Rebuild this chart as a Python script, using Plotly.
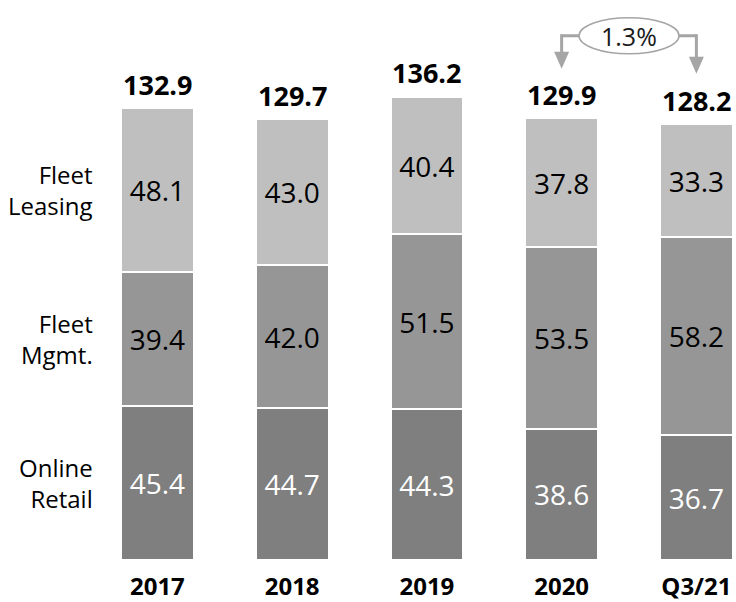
import plotly.graph_objects as go

# ---- data ----
categories = ["2017", "2018", "2019", "2020", "Q3/21"]
online_retail = [45.4, 44.7, 44.3, 38.6, 36.7]
fleet_mgmt = [39.4, 42.0, 51.5, 53.5, 58.2]
fleet_leasing = [48.1, 43.0, 40.4, 37.8, 33.3]
totals = [132.9, 129.7, 136.2, 129.9, 128.2]
segment_names = ["Online<br>Retail", "Fleet<br>Mgmt.", "Fleet<br>Leasing"]
change_label = "1.3%"

# ---- style ----
FONT = "Open Sans"
colors = ["#7f7f7f", "#969696", "#bfbfbf"]
text_colors = ["white", "black", "black"]
ARROW_GREY = "#a5a5a5"

fig = go.Figure()
series = [online_retail, fleet_mgmt, fleet_leasing]
for vals, name, col, tcol in zip(series, segment_names, colors, text_colors):
    fig.add_trace(go.Bar(
        x=categories, y=vals, name=name,
        marker=dict(color=col, line=dict(color="white", width=2)),
        text=[f"{v:.1f}" for v in vals], textposition="inside",
        insidetextanchor="middle", textangle=0, constraintext="none",
        textfont=dict(family=FONT, size=28, color=tcol),
        width=0.54, hoverinfo="skip",
    ))

annotations = []
# segment labels on the left, aligned with first bar's segments
base = 0
for vals, name in zip(series, segment_names):
    annotations.append(dict(
        x=0, y=base + vals[0] / 2, xref="x", yref="y",
        text=name, showarrow=False, xanchor="right", yanchor="middle",
        align="right", xshift=-62,
        font=dict(family=FONT, size=24, color="black"),
    ))
    base += vals[0]

# totals
for i, t in enumerate(totals):
    annotations.append(dict(
        x=i, y=t, xref="x", yref="y", text=f"<b>{t:.1f}</b>",
        showarrow=False, xanchor="center", yanchor="middle", yshift=24,
        font=dict(family=FONT, size=27, color="black"),
    ))

# change arrows between 2020 and Q3/21
i_a = categories.index("2020")
i_b = categories.index("Q3/21")
mid = (i_a + i_b) / 2
arrow_y = max(totals) + 18

shapes = [
    dict(type="line", xref="x", yref="y", x0=i_a, x1=i_b, y0=arrow_y, y1=arrow_y,
         line=dict(color=ARROW_GREY, width=3), layer="above"),
]
for idx, tip in [(i_a, -33), (i_b, -38)]:
    shapes.append(dict(
        type="path", xref="x", yref="y", xsizemode="pixel", ysizemode="pixel",
        xanchor=idx, yanchor=arrow_y,
        path=f"M0,1.5 L0,{tip + 15}", line=dict(color=ARROW_GREY, width=3), layer="above"))
    shapes.append(dict(
        type="path", xref="x", yref="y", xsizemode="pixel", ysizemode="pixel",
        xanchor=idx, yanchor=arrow_y,
        path=f"M-7.5,{tip + 17} L7.5,{tip + 17} L0,{tip} Z",
        fillcolor=ARROW_GREY, line=dict(width=0), layer="above"))
shapes.append(dict(
    type="circle", xref="x", yref="y", xsizemode="pixel", ysizemode="pixel",
    xanchor=mid, yanchor=arrow_y, x0=-50, x1=50, y0=-18, y1=18,
    fillcolor="white", line=dict(color=ARROW_GREY, width=1.5), layer="above"))
annotations.append(dict(
    x=mid, y=arrow_y, xref="x", yref="y", text=change_label, showarrow=False,
    xanchor="center", yanchor="middle",
    font=dict(family=FONT, size=25, color="#1a1a1a"),
))

fig.update_layout(
    barmode="stack", width=736, height=602, showlegend=False,
    margin=dict(l=90, r=0, t=0, b=42, autoexpand=False),
    plot_bgcolor="white", paper_bgcolor="white",
    annotations=annotations, shapes=shapes,
    xaxis=dict(type="category", range=[-0.5, 4.294], showline=False, showgrid=False,
               zeroline=False, ticks="", ticklabelstandoff=10, automargin=False,
               tickfont=dict(family=FONT, size=24, color="black", weight="bold")),
    yaxis=dict(visible=False, range=[0, 560 / 3.4], automargin=False),
)

fig.write_html("out.html")
